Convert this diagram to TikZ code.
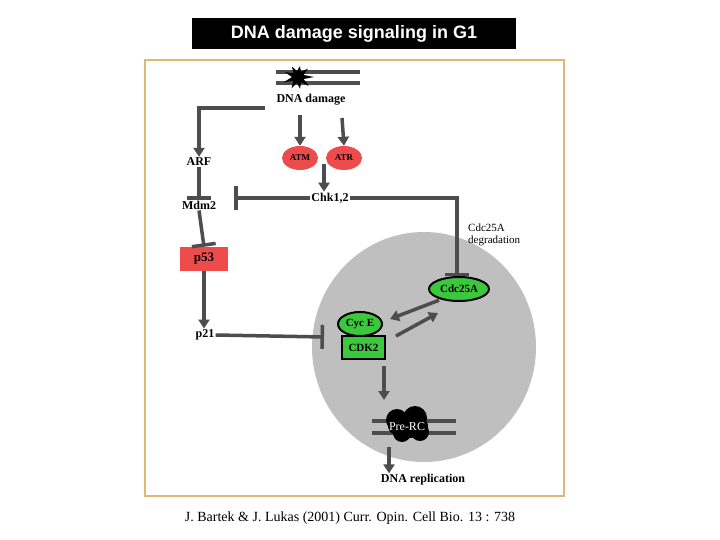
\documentclass[tikz,border=0pt]{standalone}
\usepackage{fontspec}
\setmainfont{Liberation Serif}
\newfontfamily\sansf{Liberation Sans}
\usetikzlibrary{arrows.meta,shapes.geometric}
\definecolor{ln}{HTML}{4D4D4D}
\definecolor{rd}{HTML}{EE4C4C}
\definecolor{gr}{HTML}{3CC83C}
\definecolor{frame}{HTML}{DDB978}
\begin{document}
\begin{tikzpicture}[x=1pt,y=-1pt,
  con/.style={draw=ln,line width=3.5pt},
  act/.style={con,-{Triangle[length=9pt,width=11pt]}},
  inh/.style={con,-{Bar[width=24pt,line width=3.5pt]}},
  lbl/.style={font=\bfseries\fontsize{12}{12}\selectfont,inner sep=1pt},
  redell/.style={ellipse,fill=rd,minimum width=36pt,minimum height=24pt,inner sep=0pt,font=\bfseries\fontsize{9}{9}\selectfont},
  grell/.style={ellipse,fill=gr,draw=black,line width=2pt,inner sep=0pt,font=\bfseries\fontsize{11}{11}\selectfont}]
\useasboundingbox (0,0) rectangle (720,540);
\fill[white] (0,0) rectangle (720,540);
% title
\node[fill=black,text=white,minimum width=324pt,minimum height=31pt,font=\sansf\bfseries\fontsize{18}{18}\selectfont] (title) at (354,33.5) {DNA damage signaling in G1};
% frame
\draw[frame,line width=2.5pt] (145,60) rectangle (564,496);
% cell
\fill[gray!50] (424,347) ellipse[x radius=112,y radius=115];
% DNA damage strands
\draw[ln,line width=3.5pt] (276,72) -- (360,72) (276,83) -- (360,83);
\fill[black] (298,77) +(0:16) -- +(20:6) -- +(40:14) -- +(60:6) -- +(80:12) -- +(100:6) -- +(120:13) -- +(140:6) -- +(160:15) -- +(180:6) -- +(200:14) -- +(220:6) -- +(240:12) -- +(260:6) -- +(280:11) -- +(300:6) -- +(320:13) -- +(340:6) -- cycle;
\node[lbl] (dd) at (311,100) {DNA damage};
\coordinate (ddl) at (265,108);
\node[lbl] (arf) at (199,162) {ARF};
\node[redell] (atm) at (300,158) {ATM};
\node[redell] (atr) at (344,158) {ATR};
\node[lbl] (mdm) at (199,205) {Mdm2};
\node[lbl] (chk) at (330,198) {Chk1,2};
\node[fill=rd,minimum width=48pt,minimum height=24pt,inner sep=0pt,font=\bfseries\fontsize{13}{13}\selectfont] (p53) at (204,259) {p53};
\node[lbl] (p21) at (205,335) {p21};
\node[align=left,font=\fontsize{11}{12}\selectfont,anchor=north west,inner sep=0pt] (deg) at (468,224) {Cdc25A\\degradation};
\node[grell,minimum width=60pt,minimum height=24pt] (cdc) at (459,289) {Cdc25A};
\node[grell,minimum width=44pt,minimum height=24pt] (cyc) at (360,324) {Cyc E};
\node[fill=gr,draw=black,line width=2pt,minimum width=43pt,minimum height=23pt,inner sep=0pt,font=\bfseries\fontsize{11}{11}\selectfont] (cdk) at (363.5,347.5) {CDK2};
% Pre-RC
\draw[ln,line width=3.5pt] (372,421) -- (456,421) (372,433) -- (456,433);
\fill[black] (397,420) circle (11) (415,418) circle (12) (402,433) circle (9) (420,432) circle (9) (408,426) ellipse[x radius=20,y radius=12];
\node[text=white,font=\fontsize{12}{12}\selectfont] (prc) at (407,427) {Pre-RC};
\node[lbl] (rep) at (423,480) {DNA replication};
% connectors
\draw[act] (ddl) -- (199,108) -- (arf.north);
\draw[act] (300,115) -- (atm.north);
\draw[act] (342,118) -- (atr.north);
\draw[act] (324,164) -- (chk.north -| 324,0);
\draw[inh] (arf.south) -- (mdm.north);
\draw[inh] (mdm.south) -- (p53.north);
\draw[inh] (chk.west) -- (234,198);
\draw[inh] (chk.east) -- (457,198) -- (cdc.north -| 457,0);
\draw[act] (p53.south -| 204,0) -- (p21.north -| 204,0);
\draw[inh] (p21.east) -- (324,337);
\draw[act] (cdc.south west) ++(2,2) coordinate (c1) -- (390,319);
\draw[act] (396,336) -- (438,313);
\draw[act] (cdk.south -| 384,0) ++(0,6) -- (384,400);
\draw[act] (389,447) -- (rep.north -| 389,0);
% citation
\node[font=\rmfamily\fontsize{14}{14}\selectfont] (cite) at (350,518) {J. Bartek \& J. Lukas (2001) Curr. Opin. Cell Bio. 13 : 738};
\end{tikzpicture}
\end{document}
